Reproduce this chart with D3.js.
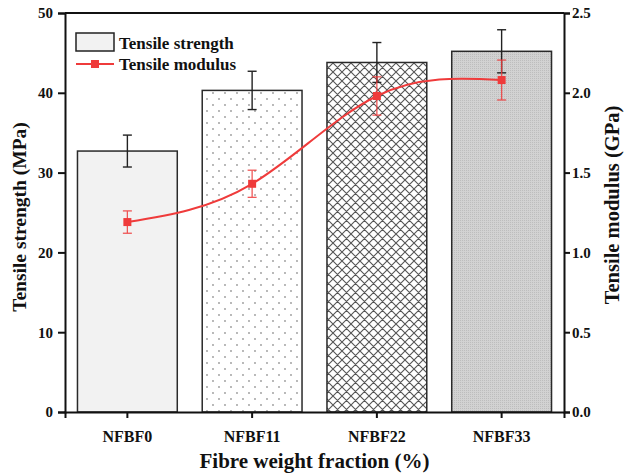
<!DOCTYPE html>
<html>
<head>
<meta charset="utf-8">
<script src="https://cdn.jsdelivr.net/npm/d3@7"></script>
<style>
  html, body { margin: 0; padding: 0; background: #fff; }
  svg { display: block; }
  text { font-family: "Liberation Serif", "Times New Roman", serif; font-weight: bold; fill: #111; }
</style>
</head>
<body>
<svg id="chart" width="625" height="473"></svg>
<script>
// Samples along the x axis
const categories = ["NFBF0", "NFBF11", "NFBF22", "NFBF33"];
// Tensile strength (MPa) with standard deviation
const strength = [32.7, 40.3, 43.8, 45.2];
const strengthErr = [2.0, 2.4, 2.5, 2.7];
// Tensile modulus (GPa) with standard deviation
const modulus = [1.19, 1.43, 1.98, 2.08];
const modulusErr = [0.07, 0.085, 0.12, 0.125];
// Axis ticks
const leftTicks = [0, 10, 20, 30, 40, 50];
const rightTicks = [0, 0.5, 1.0, 1.5, 2.0, 2.5];
// Fill style per bar
const barFills = ["url(#fillPlain)", "url(#fillDots)", "url(#fillHatch)", "url(#fillMesh)"];

const svg = d3.select("#chart");
const m = { left: 65, right: 564, top: 13, bottom: 412 };
const red = "#ef3b3b";

const x = d3.scaleBand().domain(categories).range([m.left, m.right])
  .paddingInner(0.2).paddingOuter(0.1);
const yL = d3.scaleLinear().domain([0, 50]).range([m.bottom, m.top]);
const yR = d3.scaleLinear().domain([0, 2.5]).range([m.bottom, m.top]);

// Patterns for the bar fills
const defs = svg.append("defs");
const pPlain = defs.append("pattern").attr("id", "fillPlain")
  .attr("patternUnits", "userSpaceOnUse").attr("width", 4).attr("height", 4);
pPlain.append("rect").attr("width", 4).attr("height", 4).attr("fill", "#f2f2f2");

const pDots = defs.append("pattern").attr("id", "fillDots")
  .attr("patternUnits", "userSpaceOnUse").attr("width", 12).attr("height", 12);
pDots.append("rect").attr("width", 12).attr("height", 12).attr("fill", "#fff");
pDots.append("circle").attr("cx", 3).attr("cy", 3).attr("r", 0.9).attr("fill", "#999");
pDots.append("circle").attr("cx", 9).attr("cy", 9).attr("r", 0.9).attr("fill", "#999");

const pHatch = defs.append("pattern").attr("id", "fillHatch")
  .attr("patternUnits", "userSpaceOnUse").attr("width", 9).attr("height", 9);
pHatch.append("rect").attr("width", 9).attr("height", 9).attr("fill", "#fff");
pHatch.append("path").attr("d", "M-1,-1 L10,10 M-1,8 L1,10 M8,-1 L10,1 M10,-1 L-1,10 M1,-1 L-1,1 M10,8 L8,10")
  .attr("stroke", "#555").attr("stroke-width", 1.1);

const pMesh = defs.append("pattern").attr("id", "fillMesh")
  .attr("patternUnits", "userSpaceOnUse").attr("width", 2).attr("height", 2);
pMesh.append("rect").attr("width", 2).attr("height", 2).attr("fill", "#d2d2d2");
pMesh.append("rect").attr("width", 1).attr("height", 1).attr("fill", "#bdbdbd");

// Bars
svg.append("g").selectAll("rect").data(categories).join("rect")
  .attr("x", d => x(d))
  .attr("y", (d, i) => yL(strength[i]))
  .attr("width", x.bandwidth())
  .attr("height", (d, i) => yL(0) - yL(strength[i]))
  .attr("fill", (d, i) => barFills[i])
  .attr("stroke", "#2a2a2a").attr("stroke-width", 1.5);

// Strength error bars
const cx = d => x(d) + x.bandwidth() / 2;
const eb = svg.append("g").attr("stroke", "#222").attr("stroke-width", 1.4);
categories.forEach((c, i) => {
  const t = yL(strength[i] + strengthErr[i]), b = yL(strength[i] - strengthErr[i]);
  eb.append("line").attr("x1", cx(c)).attr("x2", cx(c)).attr("y1", t).attr("y2", b);
  eb.append("line").attr("x1", cx(c) - 4.5).attr("x2", cx(c) + 4.5).attr("y1", t).attr("y2", t);
  eb.append("line").attr("x1", cx(c) - 4.5).attr("x2", cx(c) + 4.5).attr("y1", b).attr("y2", b);
});

// Modulus line
const pts = categories.map((c, i) => [cx(c), yR(modulus[i])]);
svg.append("path").attr("d", d3.line().curve(d3.curveNatural)(pts))
  .attr("fill", "none").attr("stroke", red).attr("stroke-width", 2);

const rb = svg.append("g").attr("stroke", red).attr("stroke-width", 1.3).attr("opacity", 0.85);
categories.forEach((c, i) => {
  const t = yR(modulus[i] + modulusErr[i]), b = yR(modulus[i] - modulusErr[i]);
  rb.append("line").attr("x1", cx(c)).attr("x2", cx(c)).attr("y1", t).attr("y2", b);
  rb.append("line").attr("x1", cx(c) - 4.5).attr("x2", cx(c) + 4.5).attr("y1", t).attr("y2", t);
  rb.append("line").attr("x1", cx(c) - 4.5).attr("x2", cx(c) + 4.5).attr("y1", b).attr("y2", b);
});
svg.append("g").selectAll("rect").data(categories).join("rect")
  .attr("x", (d, i) => cx(d) - 4).attr("y", (d, i) => yR(modulus[i]) - 4)
  .attr("width", 8).attr("height", 8).attr("fill", red);

// Axes
const styleAxis = size => g => {
  g.select(".domain").attr("stroke", "#111").attr("stroke-width", 2);
  g.selectAll(".tick line").attr("stroke", "#111").attr("stroke-width", 2);
  g.selectAll(".tick text").attr("font-size", size).attr("font-family", "Liberation Serif").attr("font-weight", "bold").attr("fill", "#111");
};
svg.append("g").attr("transform", `translate(0,${m.bottom})`)
  .call(d3.axisBottom(x).tickSizeOuter(0).tickSize(6).tickPadding(13))
  .call(styleAxis(16));
svg.append("g").attr("transform", `translate(${m.left},0)`)
  .call(d3.axisLeft(yL).tickValues(leftTicks).tickFormat(d3.format("d")).tickSizeOuter(0).tickSize(7).tickPadding(5))
  .call(styleAxis(15));
svg.append("g").attr("transform", `translate(${m.right},0)`)
  .call(d3.axisRight(yR).tickValues(rightTicks).tickFormat(d3.format(".1f")).tickSizeOuter(0).tickSize(6).tickPadding(2))
  .call(styleAxis(15));
// Top border
svg.append("line").attr("x1", m.left).attr("x2", m.right).attr("y1", m.top).attr("y2", m.top)
  .attr("stroke", "#111").attr("stroke-width", 2);

// Axis titles
svg.append("text").attr("x", (m.left + m.right) / 2).attr("y", 468)
  .attr("text-anchor", "middle").attr("font-size", 21).text("Fibre weight fraction (%)");
svg.append("text").attr("transform", `translate(26,217) rotate(-90)`)
  .attr("text-anchor", "middle").attr("font-size", 19.5).text("Tensile strength (MPa)");
svg.append("text").attr("transform", `translate(619,205) rotate(-90)`)
  .attr("text-anchor", "middle").attr("font-size", 20.5).text("Tensile modulus (GPa)");

// Legend
const lg = svg.append("g");
lg.append("rect").attr("x", 76).attr("y", 33).attr("width", 38).attr("height", 18)
  .attr("fill", "#f2f2f2").attr("stroke", "#222").attr("stroke-width", 1.5);
lg.append("text").attr("x", 119).attr("y", 49).attr("font-size", 17).text("Tensile strength");
lg.append("line").attr("x1", 76).attr("x2", 114).attr("y1", 64).attr("y2", 64)
  .attr("stroke", red).attr("stroke-width", 2);
lg.append("rect").attr("x", 91).attr("y", 60).attr("width", 8).attr("height", 8).attr("fill", red);
lg.append("text").attr("x", 119).attr("y", 70).attr("font-size", 17).text("Tensile modulus");
</script>
</body>
</html>
